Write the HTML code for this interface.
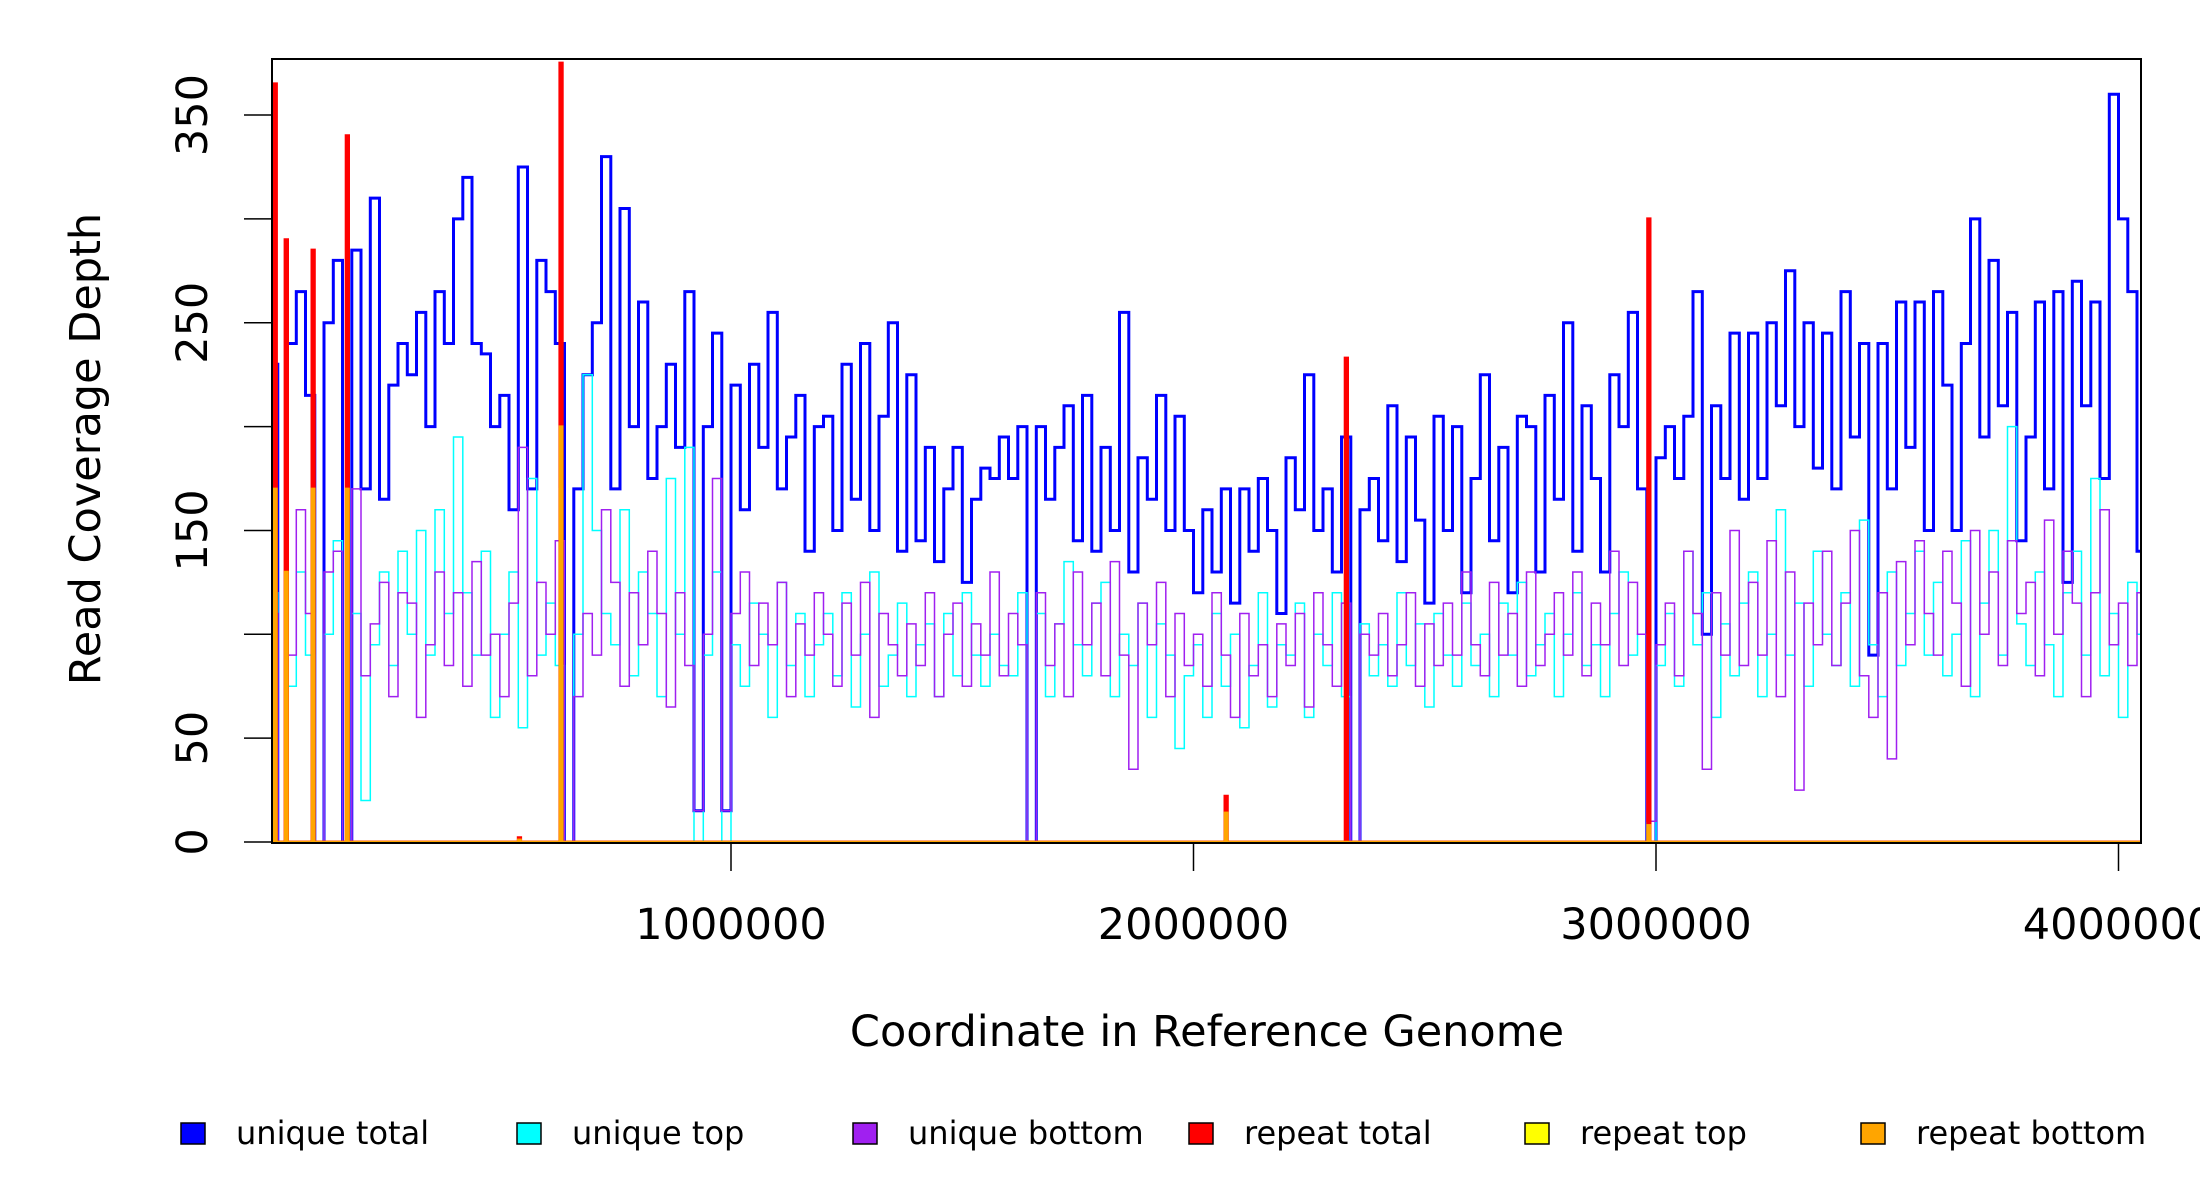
<!DOCTYPE html>
<html><head><meta charset="utf-8">
<style>
html,body{margin:0;padding:0;background:#fff;}
svg{display:block;font-family:"DejaVu Sans","Liberation Sans",sans-serif;}
</style></head>
<body>
<svg id="chart" width="2200" height="1200" viewBox="0 0 2200 1200" xmlns="http://www.w3.org/2000/svg">
  <defs><clipPath id="plotclip"><rect x="272" y="59" width="1869" height="784"/></clipPath></defs>
  <rect x="0" y="0" width="2200" height="1200" fill="#fff"/>
  <g id="series" clip-path="url(#plotclip)"></g>
  <rect x="272" y="59" width="1869" height="784" fill="none" stroke="#000" stroke-width="2"/>
  <g id="axes"></g>
  <text x="1207" y="1046" font-size="43" text-anchor="middle">Coordinate in Reference Genome</text>
  <text x="0" y="0" font-size="43" text-anchor="middle" transform="translate(100,449) rotate(-90)">Read Coverage Depth</text>
  <g id="legend"></g>
</svg>
<script>
const binSize = 20000;
const uniqueTotal = [
230,0,240,265,215,0,250,280,0,285,
170,310,165,220,240,225,255,200,265,240,
300,320,240,235,200,215,160,325,170,280,
265,240,0,170,225,250,330,170,305,200,
260,175,200,230,190,265,15,200,245,15,
220,160,230,190,255,170,195,215,140,200,
205,150,230,165,240,150,205,250,140,225,
145,190,135,170,190,125,165,180,175,195,
175,200,0,200,165,190,210,145,215,140,
190,150,255,130,185,165,215,150,205,150,
120,160,130,170,115,170,140,175,150,110,
185,160,225,150,170,130,195,0,160,175,
145,210,135,195,155,115,205,150,200,120,
175,225,145,190,120,205,200,130,215,165,
250,140,210,175,130,225,200,255,170,0,
185,200,175,205,265,100,210,175,245,165,
245,175,250,210,275,200,250,180,245,170,
265,195,240,90,240,170,260,190,260,150,
265,220,150,240,300,195,280,210,255,145,
195,260,170,265,125,270,210,260,175,360,
300,265,140];
const uniqueTop = [
120,0,75,130,90,0,100,145,0,110,
20,95,130,85,140,100,150,90,160,110,
195,120,90,140,60,100,130,55,175,90,
115,85,0,100,225,150,110,95,160,80,
130,110,70,175,100,190,0,90,130,0,
95,75,115,100,60,125,85,110,70,95,
110,80,120,65,100,130,75,90,115,70,
95,105,70,110,80,120,90,75,100,85,
80,120,0,110,70,105,135,95,80,115,
125,70,100,85,115,60,105,90,45,80,
95,60,110,75,100,55,85,120,65,95,
90,115,60,100,85,120,70,0,105,80,
95,75,120,85,105,65,110,90,75,115,
85,100,70,115,90,125,80,95,110,70,
100,120,85,95,70,110,130,90,100,0,
85,110,75,140,95,120,60,105,80,115,
130,70,100,160,90,115,75,140,100,85,
120,75,155,95,70,130,85,110,140,90,
125,80,100,145,70,115,150,90,200,105,
85,130,95,70,120,140,90,175,80,110,
60,125,100];
const uniqueBottom = [
110,0,90,160,110,0,130,140,0,170,
80,105,125,70,120,115,60,95,130,85,
120,75,135,90,100,70,115,190,80,125,
100,145,0,70,110,90,160,125,75,120,
95,140,110,65,120,85,15,100,175,15,
110,130,85,115,95,125,70,105,90,120,
100,75,115,90,125,60,110,95,80,105,
85,120,70,100,115,75,105,90,130,80,
110,95,0,120,85,105,70,130,95,115,
80,135,90,35,115,95,125,70,110,85,
100,75,120,90,60,110,80,95,70,105,
85,110,65,120,95,75,115,0,100,90,
110,80,95,120,75,105,85,115,90,130,
95,80,125,90,110,75,130,85,100,120,
90,130,80,115,95,140,85,125,100,10,
95,115,80,140,110,35,120,90,150,85,
125,90,145,70,130,25,115,95,140,85,
115,150,80,60,120,40,135,95,145,110,
90,140,115,75,150,100,130,85,145,110,
125,80,155,100,140,115,70,120,160,95,
115,85,120];
const repeatPos = [12000,36000,94000,168000,540000,630000,2068000,2328000,2982000];
const repeatTotal = [365,290,285,340,2,375,22,233,300];
const repeatTop = [120,90,85,110,1,170,14,0,8];
const repeatBottom = [170,130,170,170,1,200,14,0,8];
const repeatWidth = 5000;
const xTicks = [1000000,2000000,3000000,4000000];
const xTickLabels = ["1000000","2000000","3000000","4000000"];
const yTicks = [0,50,100,150,200,250,300,350];
const yTickLabels = ["0","50","","150","","250","","350"];
const legendLabels = ["unique total","unique top","unique bottom","repeat total","repeat top","repeat bottom"];
const legendColors = ["#0000ff","#00ffff","#a020f0","#ff0000","#ffff00","#ffa500"];

const NS = "http://www.w3.org/2000/svg";
function xs(p){ return 268.5 + p * 462.5 / 1000000; }
function ys(v){ return 842 - v * 2.077; }
const seriesG = document.getElementById('series');
const axesG = document.getElementById('axes');
const legendG = document.getElementById('legend');

function stepPath(vals){
  let d = '';
  for (let i = 0; i < vals.length; i++){
    const x0 = xs(i*binSize), x1 = xs((i+1)*binSize), y = ys(vals[i]);
    d += (i === 0 ? 'M' : 'L') + x0.toFixed(1) + ',' + y.toFixed(1) + 'L' + x1.toFixed(1) + ',' + y.toFixed(1);
  }
  return d;
}
function spikePath(pos, vals){
  let d = 'M' + xs(0).toFixed(1) + ',' + ys(0).toFixed(1);
  for (let i = 0; i < pos.length; i++){
    const a = xs(pos[i]), b = xs(pos[i] + repeatWidth), y = ys(vals[i]);
    d += 'L' + a.toFixed(1) + ',' + ys(0).toFixed(1) + 'L' + a.toFixed(1) + ',' + y.toFixed(1) + 'L' + b.toFixed(1) + ',' + y.toFixed(1) + 'L' + b.toFixed(1) + ',' + ys(0).toFixed(1);
  }
  d += 'L' + xs(4100000).toFixed(1) + ',' + ys(0).toFixed(1);
  return d;
}
function addPath(d, color, w, name){
  const p = document.createElementNS(NS, 'path');
  p.setAttribute('d', d);
  p.setAttribute('fill', 'none');
  p.setAttribute('stroke', color);
  p.setAttribute('stroke-width', w);
  p.setAttribute('stroke-linejoin', 'miter');
  
  
  seriesG.appendChild(p);
}
addPath(stepPath(uniqueTotal), '#0000ff', 3, 'unique-total-line');
addPath(stepPath(uniqueTop), '#00ffff', 1.5, 'unique-top-line');
addPath(stepPath(uniqueBottom), '#a020f0', 1.5, 'unique-bottom-line');
addPath(spikePath(repeatPos, repeatTotal), '#ff0000', 3, 'repeat-total-line');
addPath(spikePath(repeatPos, repeatTop), '#ffff00', 2, 'repeat-top-line');
addPath(spikePath(repeatPos, repeatBottom), '#ffa500', 2.5, 'repeat-bottom-line');

xTicks.forEach((t, i) => {
  const l = document.createElementNS(NS, 'line');
  l.setAttribute('x1', xs(t)); l.setAttribute('x2', xs(t));
  l.setAttribute('y1', 843); l.setAttribute('y2', 871);
  l.setAttribute('stroke', '#000'); l.setAttribute('stroke-width', 1.5);
  
  
  axesG.appendChild(l);
  const tx = document.createElementNS(NS, 'text');
  tx.setAttribute('x', xs(t)); tx.setAttribute('y', 939);
  tx.setAttribute('font-size', 43); tx.setAttribute('text-anchor', 'middle');
  tx.textContent = xTickLabels[i];
  
  
  axesG.appendChild(tx);
});
yTicks.forEach((t, i) => {
  const l = document.createElementNS(NS, 'line');
  l.setAttribute('x1', 244); l.setAttribute('x2', 272);
  l.setAttribute('y1', ys(t)); l.setAttribute('y2', ys(t));
  l.setAttribute('stroke', '#000'); l.setAttribute('stroke-width', 1.5);
  
  
  axesG.appendChild(l);
  if (yTickLabels[i]) {
    const tx = document.createElementNS(NS, 'text');
    tx.setAttribute('transform', 'translate(207,' + ys(t) + ') rotate(-90)');
    tx.setAttribute('font-size', 43); tx.setAttribute('text-anchor', 'middle');
    tx.textContent = yTickLabels[i];
    
    
    axesG.appendChild(tx);
  }
});
legendLabels.forEach((lab, i) => {
  const bx = 181 + i * 336;
  const r = document.createElementNS(NS, 'rect');
  r.setAttribute('x', bx); r.setAttribute('y', 1123);
  r.setAttribute('width', 24); r.setAttribute('height', 21);
  r.setAttribute('fill', legendColors[i]); r.setAttribute('stroke', '#000'); r.setAttribute('stroke-width', 1.5);
  
  
  legendG.appendChild(r);
  const tx = document.createElementNS(NS, 'text');
  tx.setAttribute('x', bx + 55); tx.setAttribute('y', 1144);
  tx.setAttribute('font-size', 32);
  tx.textContent = lab;
  
  
  legendG.appendChild(tx);
});
</script>
</body></html>
